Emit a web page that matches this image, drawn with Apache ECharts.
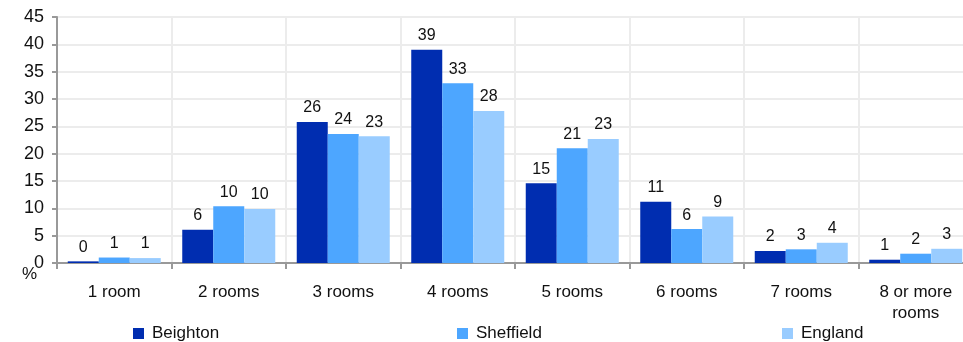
<!DOCTYPE html>
<html>
<head>
<meta charset="utf-8">
<script src="https://cdn.jsdelivr.net/npm/echarts@6/dist/echarts.min.js"></script>
<style>
  html, body { margin: 0; padding: 0; background: #fff; }
  #chart { width: 963px; height: 342px; }
</style>
</head>
<body>
<div id="chart"></div>
<script>
const categories = ['1 room', '2 rooms', '3 rooms', '4 rooms', '5 rooms', '6 rooms', '7 rooms', '8 or more\nrooms']
const beighton = [0.3, 6.1, 25.8, 39.0, 14.6, 11.2, 2.2, 0.6]
const sheffield = [1.0, 10.4, 23.6, 32.9, 21.0, 6.2, 2.5, 1.7]
const england = [0.9, 9.9, 23.2, 27.8, 22.7, 8.5, 3.7, 2.6]
const seriesNames = ['Beighton', 'Sheffield', 'England']
const colors = ['#002DB0', '#4DA6FF', '#99CCFF']

const font = 'Liberation Sans, Arial, sans-serif'

function makeSeries(name, data, color) {
  return {
    name,
    type: 'bar',
    data,
    barWidth: 31,
    barGap: '0%',
    itemStyle: { color },
    label: {
      show: true,
      position: 'top',
      distance: 6,
      color: '#111',
      fontFamily: font,
      fontSize: 16,
      formatter: (p) => String(Math.round(p.value)),
    },
  }
}

function legendAt(name, left) {
  return {
    data: [name],
    left,
    top: 320,
    itemWidth: 11,
    itemHeight: 11,
    itemGap: 0,
    icon: 'rect',
    textStyle: { fontFamily: font, fontSize: 17, color: '#111', padding: [0, 0, 0, 3] },
  }
}

const chart = echarts.init(document.getElementById('chart'), null, { renderer: 'canvas' })
chart.setOption({
  animation: false,
  backgroundColor: '#fff',
  // the plot runs a little past the right edge of the picture
  grid: { left: 57, top: 17, bottom: 79, right: -10, outerBoundsMode: 'none', containLabel: false },
  legend: [
    legendAt('Beighton', 128),
    legendAt('Sheffield', 452),
    legendAt('England', 777),
  ],
  xAxis: {
    type: 'category',
    data: categories,
    axisLine: { lineStyle: { color: '#999', width: 2 } },
    axisTick: { show: true, alignWithLabel: false, length: 6, lineStyle: { color: '#999', width: 2 } },
    axisLabel: { interval: 0, color: '#111', fontFamily: font, fontSize: 17, margin: 19, lineHeight: 21 },
    splitLine: { show: true, interval: 0, lineStyle: { color: '#ececec', width: 2 } },
  },
  yAxis: {
    type: 'value',
    min: 0,
    max: 45,
    interval: 5,
    name: '%',
    nameLocation: 'start',
    nameGap: 11,
    nameMoveOverlap: false,
    nameTextStyle: { color: '#111', fontFamily: font, fontSize: 17, align: 'right', verticalAlign: 'middle', padding: [0, 20, 0, 0] },
    axisLine: { show: true, lineStyle: { color: '#999', width: 2 } },
    axisTick: { show: true, length: 5, lineStyle: { color: '#999', width: 2 } },
    axisLabel: { color: '#111', fontFamily: font, fontSize: 18, margin: 13 },
    splitLine: { lineStyle: { color: '#ececec', width: 2 } },
  },
  series: [
    makeSeries(seriesNames[0], beighton, colors[0]),
    makeSeries(seriesNames[1], sheffield, colors[1]),
    makeSeries(seriesNames[2], england, colors[2]),
  ],
})
</script>
</body>
</html>
